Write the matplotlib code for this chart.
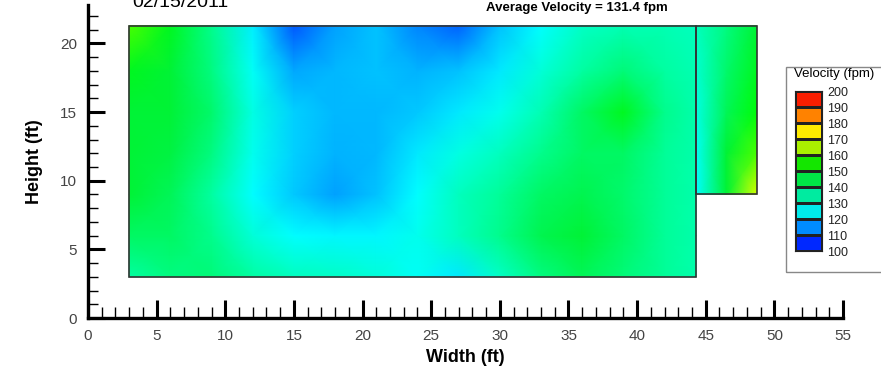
import numpy as np
import matplotlib
matplotlib.use('Agg')
import matplotlib.pyplot as plt
from matplotlib.colors import LinearSegmentedColormap, ListedColormap, BoundaryNorm
from matplotlib.patches import Rectangle
from matplotlib.ticker import MultipleLocator

plt.rcParams['font.family'] = ['Liberation Sans', 'DejaVu Sans']

# measurement grid (main opening)
x_main = [3, 6, 9, 12, 15, 18, 21, 24, 27, 30, 33, 36, 39, 42, 44.3]
y_main = [3, 6, 9, 12, 15, 18, 21.3]
v_main = [
    [140, 143, 144, 140, 137, 136, 134, 131, 127, 136, 143, 147, 144, 141, 139],  # y=3
    [146, 146, 142, 134, 130, 129, 129, 132, 137, 142, 148, 150, 146, 141, 139],  # y=6
    [150, 147, 140, 130, 123, 118, 122, 130, 137, 141, 146, 148, 145, 141, 139],  # y=9
    [150, 149, 143, 132, 124, 120, 121, 127, 133, 137, 142, 146, 146, 141, 139],  # y=12
    [150, 150, 145, 133, 124, 121, 121, 123, 127, 132, 138, 146, 152, 142, 139],  # y=15
    [152, 150, 143, 131, 119, 121, 122, 120, 122, 127, 134, 140, 144, 140, 138],  # y=18
    [158, 152, 142, 128, 110, 118, 122, 115, 111, 122, 130, 136, 138, 138, 137],  # y=21.3
]

# small opening on the right
x_side = [44.3, 46.5, 48.7]
y_side = [9, 12, 15, 18, 21.3]
v_side = [
    [130, 150, 167],
    [131, 150, 158],
    [133, 147, 154],
    [135, 145, 152],
    [137, 143, 150],
]

levels = [100, 110, 120, 130, 140, 150, 160, 170, 180, 190, 200]
band_colors = ['#0028ff', '#008cff', '#00ebeb', '#00eba0', '#00e646',
               '#14e600', '#aaf000', '#ffeb00', '#ff8200', '#fa1e00']

# continuous map for the field
cmap = LinearSegmentedColormap.from_list('vel', [
    (0.00, (0, 0, 1)),
    (0.10, (0, 0.35, 1)),
    (0.20, (0, 0.70, 1)),
    (0.30, (0, 1, 1)),
    (0.40, (0, 1, 0.63)),
    (0.50, (0, 0.95, 0.22)),
    (0.55, (0, 1, 0)),
    (0.60, (0.47, 1, 0)),
    (0.70, (1, 1, 0)),
    (0.80, (1, 0.67, 0)),
    (0.90, (1, 0.35, 0)),
    (1.00, (1, 0, 0)),
])

fig = plt.figure(figsize=(8.81, 3.77), dpi=100)
ax = fig.add_axes([88 / 881, 59 / 377, 755 / 881, 313 / 377])

X, Y = np.meshgrid(x_main, y_main)
ax.pcolormesh(X, Y, np.array(v_main), cmap=cmap, vmin=100, vmax=200, shading='gouraud')
X2, Y2 = np.meshgrid(x_side, y_side)
ax.pcolormesh(X2, Y2, np.array(v_side), cmap=cmap, vmin=100, vmax=200, shading='gouraud')

ax.add_patch(Rectangle((x_main[0], y_main[0]), x_main[-1] - x_main[0], y_main[-1] - y_main[0],
                       fill=False, edgecolor='#333333', lw=1.2, zorder=3))
ax.add_patch(Rectangle((x_side[0], y_side[0]), x_side[-1] - x_side[0], y_side[-1] - y_side[0],
                       fill=False, edgecolor='#333333', lw=1.2, zorder=3))

ax.set_xlim(0, 55)
ax.set_ylim(0, 22.8)
for s in ['top', 'right']:
    ax.spines[s].set_visible(False)
for s in ['left', 'bottom']:
    ax.spines[s].set_linewidth(2.4)

ax.xaxis.set_major_locator(MultipleLocator(5))
ax.xaxis.set_minor_locator(MultipleLocator(1))
ax.yaxis.set_major_locator(MultipleLocator(5))
ax.yaxis.set_minor_locator(MultipleLocator(1))
ax.tick_params(axis='x', which='major', direction='in', length=13, width=2.2, pad=8,
               labelsize=11, labelcolor='#444444')
ax.tick_params(axis='x', which='minor', direction='in', length=8, width=1)
ax.tick_params(axis='y', which='major', direction='in', length=12, width=2.2, pad=8,
               labelsize=11, labelcolor='#444444')
ax.tick_params(axis='y', which='minor', direction='in', length=7, width=1)

ax.set_xlabel('Width (ft)', fontsize=13, fontweight='bold', labelpad=4)
ax.set_ylabel('Height (ft)', fontsize=13, fontweight='bold', labelpad=12)

fig.text(132 / 881, 1 - 7 / 377, '02/15/2011', fontsize=14, va='baseline', ha='left')
fig.text(577 / 881, 1 - 8 / 377, 'Average Velocity = 131.4 fpm', fontsize=9.5,
         fontweight='bold', ha='center', va='center')

# legend box
fig.add_artist(Rectangle((786 / 881, (377 - 272) / 377), 100 / 881, 205 / 377,
                         transform=fig.transFigure, fill=False, edgecolor='#888888', lw=1))
fig.text(834 / 881, 1 - 74 / 377, 'Velocity (fpm)', fontsize=9.5, ha='center', va='center')

cax = fig.add_axes([795 / 881, (377 - 251) / 377, 27 / 881, 160 / 377])
norm = BoundaryNorm(levels, len(band_colors))
cax.pcolormesh([0, 1], levels, np.array(levels[:-1]).reshape(-1, 1) + 5,
               cmap=ListedColormap(band_colors), norm=norm, edgecolors='#222222', linewidth=0.8)
cax.set_xlim(0, 1)
cax.set_ylim(levels[0], levels[-1])
cax.set_xticks([])
cax.yaxis.tick_right()
cax.set_yticks(levels)
cax.tick_params(axis='y', length=0, pad=4, labelsize=9, labelcolor='#222222')
for s in cax.spines.values():
    s.set_color('#222222')
    s.set_linewidth(0.8)

fig.savefig('out.png', dpi=100)
